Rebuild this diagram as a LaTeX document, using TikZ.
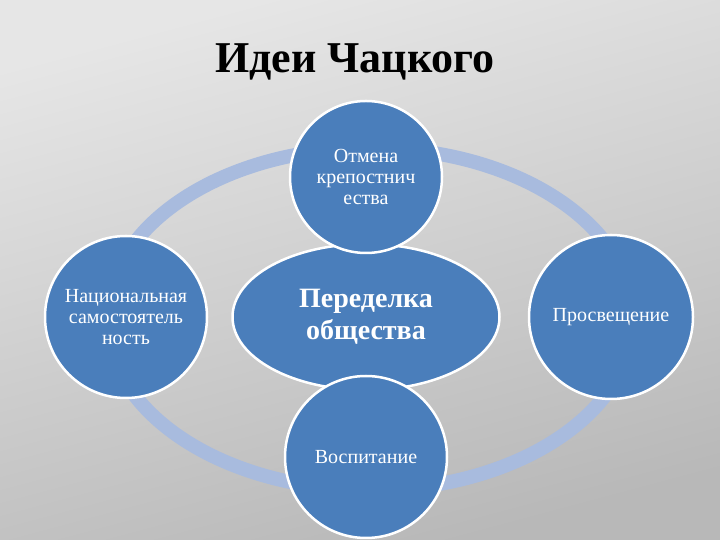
\documentclass[tikz,border=0pt]{standalone}
\usepackage{fontspec}
\setmainfont{Liberation Serif}
\usepackage{tikz}
\usetikzlibrary{shapes.geometric,positioning}

\definecolor{ideablue}{RGB}{74,126,187}
\definecolor{ringblue}{RGB}{168,187,222}
\definecolor{bgtop}{RGB}{230,230,230}
\definecolor{bgbottom}{RGB}{184,184,184}

\begin{document}
\begin{tikzpicture}[x=1pt,y=1pt,node distance=140pt,
                    font=\fontsize{20}{21}\selectfont]
	\tikzstyle{idea}=[circle,fill=ideablue,draw=white,line width=2.5pt,
	                  text=white,inner sep=0pt,align=center,minimum size=162pt]
	\tikzstyle{core}=[ellipse,fill=ideablue,draw=white,line width=2.5pt,
	                  text=white,inner sep=0pt,align=center,
	                  minimum width=267pt,minimum height=146pt,
	                  font=\fontsize{28}{32}\selectfont\bfseries]
	\tikzstyle{ring}=[draw=ringblue,line width=14pt]

	% background
	\shade[top color=bgtop,bottom color=bgbottom,shading angle=15]
		(0,0) rectangle (720,540);

	\node[anchor=base,font=\fontsize{44}{48}\selectfont\bfseries] (T)
		at (355,467) {Идеи Чацкого};

	\coordinate (R) at (370,221);
	\draw[ring] (R) ellipse [x radius=263, y radius=171];

	\node[core]          (C) at (366,223)                   {Переделка\\общества};
	\node[idea]          (L) [left of=C,node distance=240pt]  {Национальная\\самостоятель\\ность};
	\node[idea,minimum size=164pt] (P) [right of=C,node distance=245pt] {Просвещение};
	\node[idea,minimum size=152pt] (O) [above of=C]         {Отмена\\крепостнич\\ества};
	\node[idea]          (V) [below of=C]                   {Воспитание};
\end{tikzpicture}
\end{document}
